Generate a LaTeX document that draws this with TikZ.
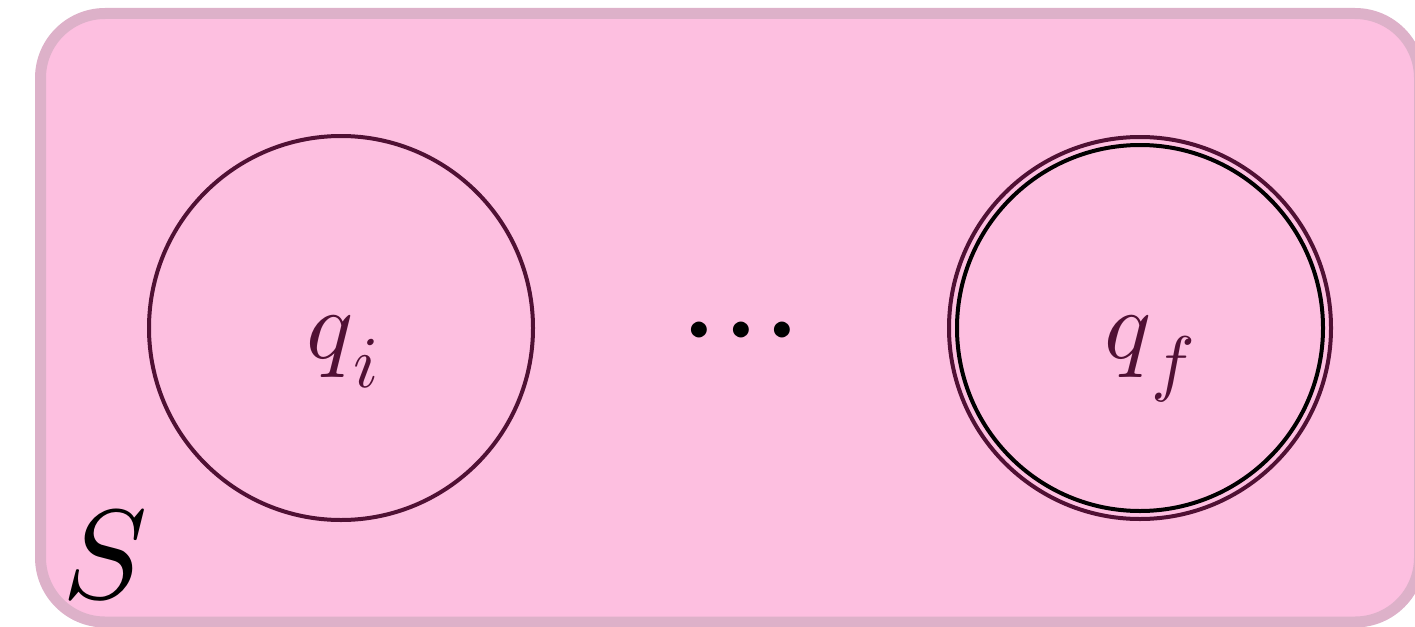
\documentclass[tikz,border=0pt]{standalone}
\definecolor{pinkfill}{RGB}{253,191,224}
\definecolor{bordercol}{RGB}{221,177,201}
\definecolor{statecol}{RGB}{80,16,52}
\tikzset{
  statebox/.style={circle, draw=statecol, line width=4pt, inner sep=0pt},
  lbl/.style={anchor=base west, inner sep=0pt, text=statecol},
}
\newcommand{\bigq}{\scalebox{9.8}{$q$}}
\newcommand{\subtxt}[1]{\raisebox{-29pt}{\scalebox{7.3}{$#1$}}}
\begin{document}
\begin{tikzpicture}[x=1pt,y=-1pt]
\useasboundingbox (0,0) rectangle (1415,626);
\clip (0,0) rectangle (1415,626);
\draw[draw=bordercol, fill=pinkfill, line width=11pt, rounded corners=64.5pt] (40.5,13.5) rectangle (1419.5,622);
\node[statebox, minimum size=384pt] (qi) at (341,328) {};
\node[statebox, minimum size=382pt] (qf) at (1140,328) {};
\node[circle, draw=black, line width=4pt, inner sep=0pt, minimum size=366pt] (qfin) at (1140,328) {};
\node[lbl] (qitxt) at (306,358) {\bigq\subtxt{i}};
\node[lbl] (qftxt) at (1104,358) {\bigq\subtxt{f}};
\node[anchor=base, inner sep=0pt] (dots) at (741,367.5) {\scalebox{15}{${\cdot}{\cdot}{\cdot}$}};
\node[anchor=base west, inner sep=0pt] (S) at (62,598) {\scalebox{12.7}{$S$}};
\end{tikzpicture}
\end{document}
